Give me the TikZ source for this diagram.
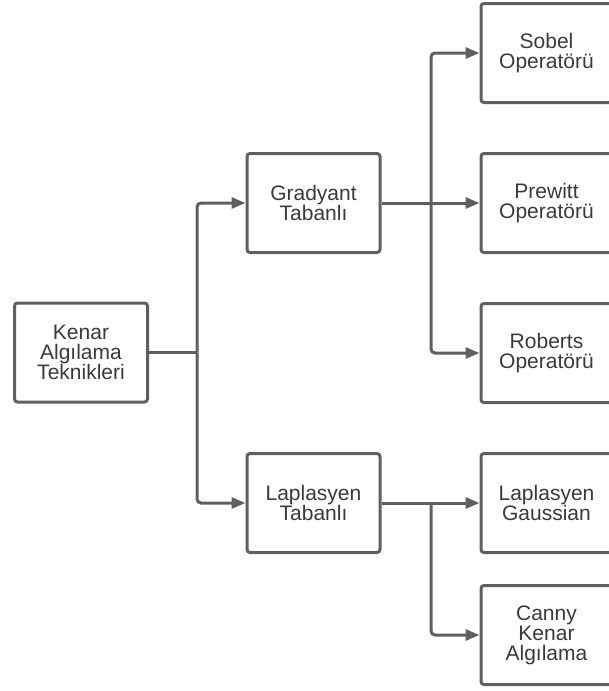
\documentclass[tikz,border=0pt]{standalone}
\usepackage{fontspec}
\setmainfont{Liberation Sans}
\usepackage{xcolor}
\usepackage{tikz}
\usetikzlibrary{arrows.meta}
\definecolor{cLine}{HTML}{5F5F5F}
\definecolor{cText}{HTML}{3A3A3A}
\tikzset{
  blk/.style={draw=cLine, line width=3pt, rounded corners=3pt, fill=white,
              minimum width=133pt, minimum height=99pt, inner sep=0pt,
              align=center, text=cText, font=\fontsize{21}{20}\selectfont},
  arr/.style={-{Triangle[length=14pt,width=11pt]}, line width=3pt, cLine, rounded corners=4pt},
  lnk/.style={line width=3pt, cLine, rounded corners=4pt}
}
\begin{document}
\begin{tikzpicture}[x=1pt, y=-1pt]
\useasboundingbox (0,0) rectangle (609,691);
\clip (0,0) rectangle (609,691);
% boxes
\node[blk] (root) at (81,352.5) {Kenar\\Algılama\\Teknikleri};
\node[blk] (grad) at (313.5,203) {Gradyant\\Tabanlı};
\node[blk] (lap) at (313.5,503) {Laplasyen\\Tabanlı};
\node[blk, minimum width=131pt] (sobel) at (546.5,53) {Sobel\\Operatörü};
\node[blk, minimum width=131pt] (prewitt) at (546.5,203) {Prewitt\\Operatörü};
\node[blk, minimum width=131pt] (roberts) at (546.5,353) {Roberts\\Operatörü};
\node[blk, minimum width=131pt] (log) at (546.5,503) {Laplasyen\\Gaussian};
\node[blk, minimum width=131pt] (canny) at (546.5,635) {Canny\\Kenar\\Algılama};
% split points
\coordinate (j1) at (197,352.5);
\coordinate (j2) at (431,203);
\coordinate (j3) at (431,503);
% connectors
\draw[lnk] (root.east) -- (j1);
\draw[arr] (j1) |- (grad.west);
\draw[arr] (j1) |- (lap.west);
\draw[arr] (grad.east) -- (prewitt.west);
\draw[arr] (j2) |- (sobel.west);
\draw[arr] (j2) |- (roberts.west);
\draw[arr] (lap.east) -- (log.west);
\draw[arr] (j3) |- (canny.west);
\end{tikzpicture}
\end{document}
